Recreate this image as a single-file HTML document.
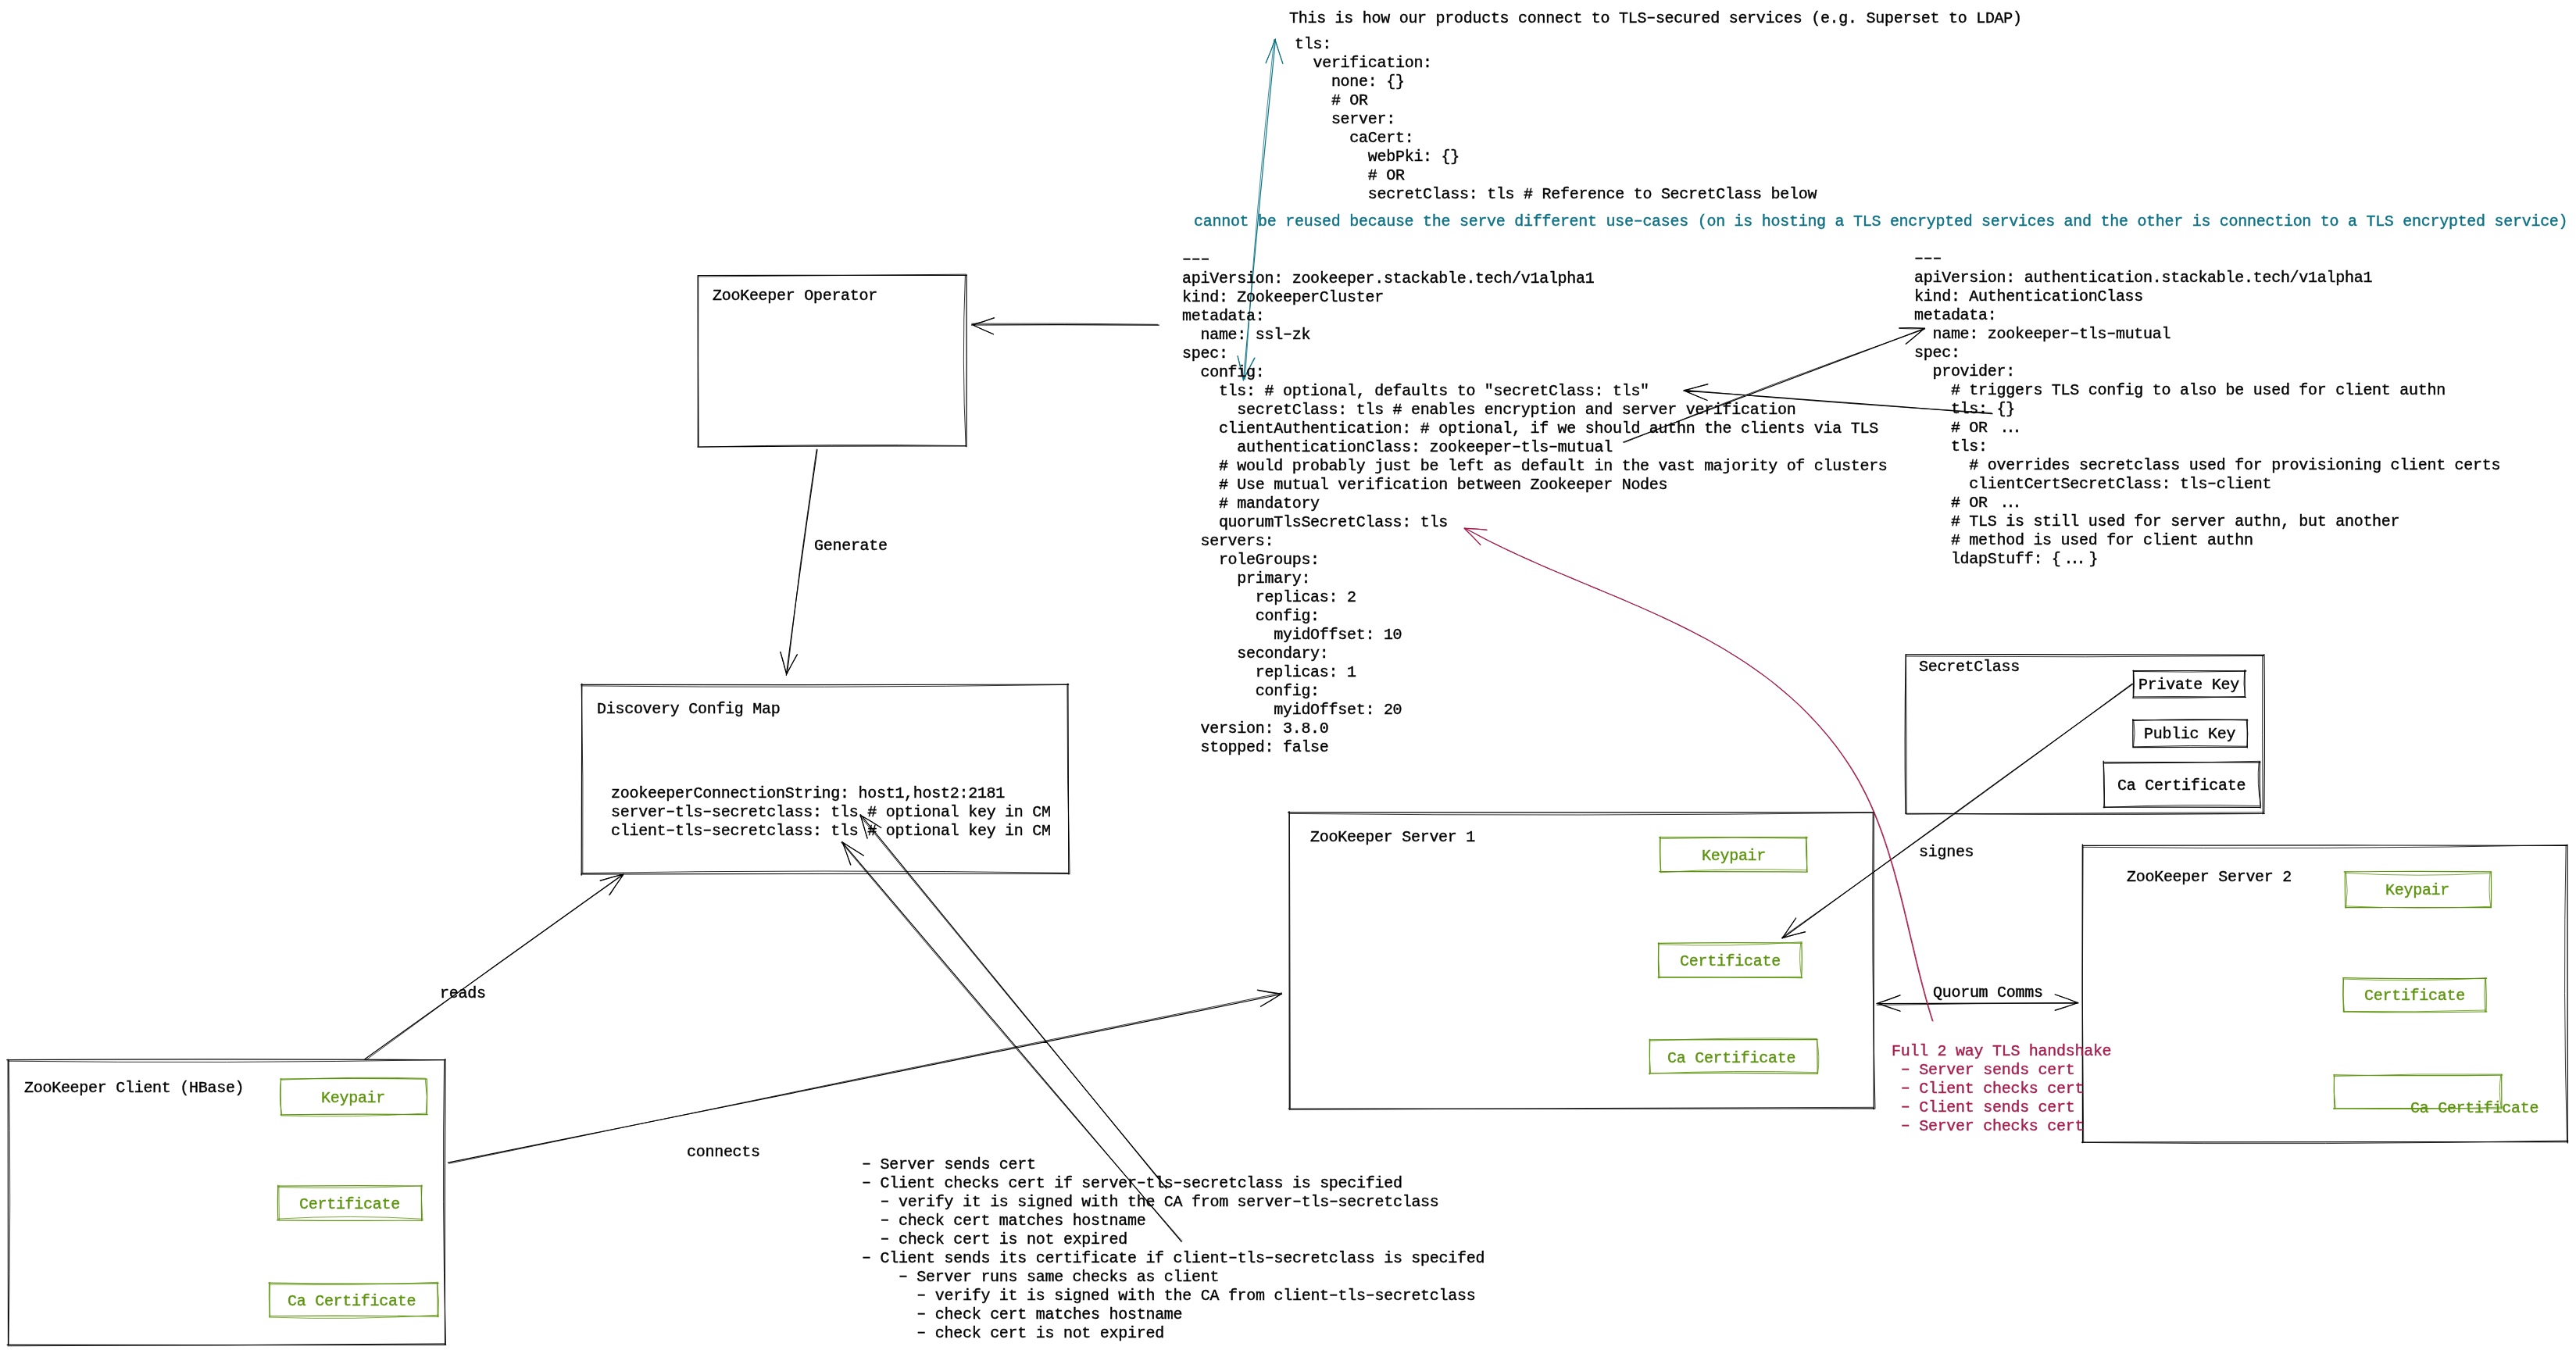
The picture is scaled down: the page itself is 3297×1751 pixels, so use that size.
<!DOCTYPE html>
<html><head><meta charset="utf-8"><style>
html,body{margin:0;padding:0;background:#fff;}
body{width:3297px;height:1751px;position:relative;overflow:hidden;}
svg{position:absolute;left:0;top:0;}
div{position:absolute;white-space:pre;-webkit-text-stroke:0.4px currentColor;will-change:transform;font-family:"Liberation Mono",monospace;font-size:20px;line-height:24px;letter-spacing:-0.28px;}
b{font-weight:normal;position:relative;top:-0.6px;}
i{font-style:normal;letter-spacing:-3.92px;margin-left:3.9px;margin-right:7.84px;}
</style></head><body>
<svg width="3297" height="1751" viewBox="0 0 3297 1751" fill="none" stroke-width="1.2" stroke-linecap="round" stroke-linejoin="round">
<path d="M893.1 352.5Q1065.2 352.9 1237.4 352.4 M1237.0 351.5Q1237.3 461.6 1237.0 571.7 M1237.0 571.0Q1065.0 570.3 893.0 572.0 M893.3 571.6Q893.4 462.1 893.1 352.6 M743.6 876.3Q1055.7 877.1 1367.8 876.1 M1366.9 875.2Q1367.6 997.0 1367.8 1118.9 M1368.3 1118.3Q1056.0 1118.0 743.7 1118.9 M744.2 1120.2Q745.0 997.6 744.8 875.1 M8.8 1356.7Q289.5 1355.2 570.2 1356.6 M570.0 1355.7Q568.8 1538.6 569.6 1721.4 M570.7 1721.3Q289.9 1722.1 9.1 1721.3 M10.5 1721.9Q10.4 1539.0 10.2 1356.0 M1648.6 1039.8Q2023.7 1038.7 2398.7 1039.9 M2398.2 1040.0Q2398.1 1229.9 2398.2 1419.8 M2399.0 1418.9Q2024.1 1419.5 1649.2 1419.0 M1650.3 1420.2Q1650.3 1229.4 1650.0 1038.6 M2439.0 837.8Q2668.4 837.3 2897.8 838.4 M2897.9 837.5Q2898.9 939.5 2897.7 1041.5 M2898.3 1041.3Q2668.4 1042.9 2438.5 1041.2 M2438.8 1041.1Q2437.5 939.4 2439.1 837.7 M2729.8 858.6Q2802.4 858.3 2875.0 858.8 M2873.3 857.7Q2872.9 875.1 2873.4 892.5 M2874.5 892.3Q2802.2 891.6 2730.0 892.0 M2730.3 893.0Q2730.6 875.5 2730.4 858.0 M2729.5 921.5Q2802.9 921.9 2876.3 920.9 M2876.2 920.7Q2876.3 938.9 2876.3 957.1 M2876.2 956.2Q2803.0 956.2 2729.8 956.6 M2729.9 956.5Q2729.8 938.5 2729.9 920.5 M2692.2 975.6Q2792.7 975.5 2893.1 975.8 M2892.4 974.6Q2891.8 1004.3 2893.2 1034.1 M2893.3 1033.3Q2792.8 1033.2 2692.4 1032.8 M2692.9 1033.8Q2693.9 1003.9 2692.2 974.0 M2665.4 1082.3Q2975.8 1081.6 3286.2 1082.3 M3286.0 1081.0Q3286.6 1271.9 3286.3 1462.9 M3286.7 1461.4Q2975.5 1461.0 2664.4 1462.1 M2665.5 1462.7Q2664.8 1271.8 2665.3 1080.9 M1483.3 416.1Q1363.5 415.3 1243.7 416.0 M1272.6 406.9Q1258.3 412.2 1243.6 416.1 M1271.5 427.8Q1257.7 421.8 1244.0 415.5 M2077.5 566.0Q2270.6 493.5 2463.5 420.4 M2430.6 419.9Q2446.9 419.2 2463.3 420.1 M2439.2 440.2Q2451.4 430.4 2463.1 420.2 M2550.1 529.7Q2352.5 513.9 2154.8 500.2 M2185.9 491.9Q2170.6 495.7 2155.4 499.8 M2185.2 512.5Q2170.1 506.2 2155.0 499.8 M1046.0 575.5Q1024.8 719.7 1006.3 864.4 M998.9 834.5Q1003.2 848.7 1006.6 863.2 M1020.5 837.7Q1013.3 850.4 1006.6 863.3 M467.1 1355.5Q632.9 1237.6 798.1 1118.9 M768.1 1127.1Q783.2 1122.8 798.5 1118.9 M779.7 1145.6Q788.9 1132.2 798.3 1118.9 M573.4 1488.1Q1106.8 1379.0 1640.6 1272.5 M1609.3 1267.2Q1624.7 1270.2 1640.1 1272.2 M1613.5 1288.3Q1627.3 1280.6 1640.5 1271.8 M1512.2 1589.3Q1294.2 1334.1 1077.5 1077.6 M1088.6 1107.0Q1083.7 1092.1 1078.0 1077.4 M1105.4 1095.3Q1091.6 1086.7 1077.9 1077.8 M1492.9 1521.0Q1297.0 1281.9 1101.3 1042.6 M1110.0 1073.1Q1105.8 1057.9 1101.1 1042.8 M1127.8 1059.6Q1114.7 1050.9 1100.9 1043.2 M2729.7 875.4Q2504.9 1037.5 2281.1 1201.0 M2298.7 1175.0Q2289.9 1188.0 2281.1 1200.9 M2310.7 1192.9Q2295.7 1196.4 2280.8 1200.5 M2401.8 1284.7Q2530.7 1284.4 2659.7 1283.7 M2432.1 1273.9Q2417.5 1279.3 2402.8 1284.4 M2432.1 1294.3Q2417.6 1289.0 2403.0 1284.0 M2630.1 1272.8Q2645.2 1277.8 2659.9 1284.0 M2630.1 1293.1Q2645.1 1288.4 2660.0 1283.5" stroke="#000000" stroke-width="1.2"/>
<path d="M358.8 1381.1Q452.4 1379.8 545.9 1381.1 M546.2 1380.8Q547.1 1403.7 546.1 1426.5 M547.3 1426.6Q453.2 1425.6 359.1 1426.9 M360.0 1427.6Q358.6 1404.1 359.5 1380.6 M355.4 1518.2Q447.9 1517.3 540.4 1518.0 M539.9 1516.9Q539.0 1539.7 539.7 1562.5 M541.1 1562.1Q447.9 1562.7 354.6 1561.8 M355.8 1561.8Q355.1 1539.5 355.8 1517.1 M343.8 1642.1Q452.5 1643.7 561.2 1642.7 M559.8 1641.5Q560.2 1663.5 560.2 1685.6 M561.1 1685.2Q452.8 1683.3 344.5 1684.5 M345.0 1685.7Q345.0 1663.7 345.3 1641.6 M2123.6 1071.6Q2218.4 1071.5 2313.2 1071.6 M2311.9 1071.1Q2313.1 1093.5 2312.5 1115.9 M2312.4 1116.1Q2218.0 1115.4 2123.7 1115.6 M2125.4 1116.3Q2124.5 1093.7 2125.2 1071.0 M2122.3 1207.4Q2214.4 1205.8 2306.4 1207.2 M2305.8 1206.4Q2306.8 1229.0 2305.7 1251.5 M2306.6 1251.6Q2214.6 1250.9 2122.7 1250.8 M2122.9 1252.1Q2122.0 1229.7 2123.0 1207.2 M2111.0 1330.8Q2218.6 1330.8 2326.2 1330.6 M2325.8 1330.8Q2326.0 1352.6 2326.2 1374.4 M2326.2 1374.3Q2218.2 1372.8 2110.2 1374.0 M2111.5 1374.9Q2111.3 1352.6 2111.7 1330.2 M3000.2 1115.9Q3094.5 1114.9 3188.8 1115.9 M3188.3 1116.1Q3188.8 1138.9 3188.4 1161.8 M3188.6 1161.6Q3095.1 1161.9 3001.5 1161.5 M3001.9 1161.8Q3001.1 1138.8 3001.4 1115.7 M2998.7 1251.7Q3090.6 1253.3 3182.6 1252.4 M3181.4 1252.0Q3182.5 1273.8 3181.9 1295.6 M3182.9 1295.0Q3091.0 1296.5 2999.1 1294.9 M2999.5 1295.1Q2998.6 1273.4 2999.5 1251.6 M2986.7 1375.9Q3094.8 1377.4 3202.9 1376.1 M3201.7 1375.4Q3201.8 1397.3 3201.9 1419.2 M3201.9 1419.0Q3094.2 1418.3 2986.5 1418.9 M2987.9 1419.6Q2987.1 1397.7 2987.5 1375.8" stroke="#5c940d" stroke-width="1.2"/>
<path d="M1591.4 487.0Q1610.8 268.5 1632.5 50.2 M1620.1 80.8Q1626.6 65.5 1632.5 49.9 M1641.8 81.2Q1636.6 65.9 1631.9 50.4 M1584.0 455.5Q1588.0 471.2 1591.6 487.0 M1606.0 458.1Q1598.0 472.1 1591.2 486.7" stroke="#0b7285" stroke-width="1.2"/>
<path d="M2473.3 1306.7 L2471.0 1299.4 L2468.8 1292.0 L2466.6 1284.6 L2464.5 1277.1 L2462.5 1269.7 L2460.5 1262.2 L2458.5 1254.6 L2456.6 1247.0 L2454.7 1239.5 L2452.8 1231.8 L2451.0 1224.2 L2449.2 1216.5 L2447.4 1208.9 L2445.5 1201.2 L2443.7 1193.5 L2441.9 1185.8 L2440.1 1178.1 L2438.2 1170.4 L2436.4 1162.7 L2434.5 1155.0 L2432.6 1147.3 L2430.6 1139.6 L2428.6 1132.0 L2426.5 1124.3 L2424.4 1116.7 L2422.3 1109.1 L2420.0 1101.5 L2417.7 1093.9 L2415.4 1086.4 L2412.9 1078.9 L2410.4 1071.4 L2407.8 1064.0 L2405.0 1056.6 L2402.2 1049.2 L2399.3 1042.0 L2396.2 1034.8 L2393.0 1027.6 L2389.7 1020.6 L2386.3 1013.6 L2382.7 1006.7 L2379.0 999.8 L2375.1 993.1 L2371.1 986.4 L2367.0 979.9 L2362.7 973.4 L2358.3 967.0 L2353.8 960.7 L2349.2 954.4 L2344.4 948.3 L2339.5 942.2 L2334.5 936.3 L2329.4 930.4 L2324.2 924.6 L2318.9 919.0 L2313.5 913.4 L2308.0 907.8 L2302.4 902.4 L2296.7 897.1 L2290.9 891.9 L2285.0 886.7 L2279.0 881.7 L2273.0 876.7 L2266.9 871.9 L2260.7 867.1 L2254.4 862.4 L2248.1 857.9 L2241.7 853.4 L2235.2 849.0 L2228.7 844.7 L2222.1 840.5 L2215.5 836.4 L2208.8 832.3 L2202.1 828.3 L2195.3 824.4 L2188.5 820.6 L2181.6 816.8 L2174.6 813.1 L2167.7 809.5 L2160.7 805.9 L2153.6 802.4 L2146.6 798.9 L2139.5 795.5 L2132.3 792.1 L2125.2 788.8 L2118.0 785.5 L2110.8 782.3 L2103.5 779.0 L2096.3 775.8 L2089.0 772.7 L2081.8 769.5 L2074.5 766.4 L2067.2 763.3 L2059.9 760.3 L2052.6 757.2 L2045.3 754.1 L2037.9 751.1 L2030.6 748.0 L2023.3 745.0 L2016.0 741.9 L2008.8 738.9 L2001.5 735.8 L1994.2 732.8 L1987.0 729.7 L1979.7 726.6 L1972.5 723.5 L1965.3 720.3 L1958.2 717.1 L1951.0 713.9 L1943.9 710.7 L1936.9 707.4 L1929.8 704.1 L1922.8 700.8 L1915.9 697.4 L1908.9 694.0 L1902.0 690.5 L1895.2 686.9 L1888.4 683.3 L1881.7 679.7 L1875.0 676.0 M1903.1 678.4Q1888.6 676.8 1874.0 676.2 M1894.9 697.5Q1885.0 686.4 1874.2 676.2" stroke="#a61e4d" stroke-width="1.2"/>
<path d="M894.1 354.0Q1065.3 352.7 1236.5 351.1 M1235.4 352.5Q1231.0 461.9 1236.1 571.3 M1236.0 570.5Q1064.5 567.9 893.0 572.2 M894.3 571.1Q893.3 461.8 893.8 352.5 M744.1 877.9Q1055.6 881.2 1367.0 876.4 M1365.9 875.8Q1365.7 997.3 1369.1 1118.8 M1367.3 1117.3Q1055.8 1112.6 744.3 1117.5 M745.8 1117.7Q746.8 997.1 744.2 876.4 M10.8 1358.2Q290.4 1361.4 569.9 1356.6 M568.6 1356.1Q565.4 1538.2 570.5 1720.3 M569.7 1719.8Q289.8 1722.2 9.9 1722.8 M11.0 1721.7Q14.2 1539.1 11.4 1356.4 M1650.2 1041.4Q2024.6 1045.2 2399.0 1040.3 M2397.1 1040.7Q2395.3 1229.9 2400.0 1419.0 M2397.7 1417.3Q2024.1 1418.2 1650.4 1420.5 M1651.4 1419.1Q1651.0 1229.4 1650.4 1039.6 M2439.6 840.1Q2668.4 841.7 2897.2 839.5 M2895.6 838.7Q2895.3 940.4 2896.0 1042.0 M2896.7 1039.6Q2668.2 1040.8 2439.7 1042.2 M2440.4 1041.6Q2440.3 939.7 2439.5 837.9 M2731.2 859.5Q2802.7 860.9 2874.2 859.2 M2872.6 858.1Q2871.0 875.4 2873.5 892.8 M2872.7 891.5Q2801.2 894.1 2729.6 893.7 M2730.8 892.4Q2732.4 875.4 2730.9 858.4 M2729.4 922.5Q2803.3 919.1 2877.2 922.1 M2875.2 921.7Q2878.2 938.9 2875.9 956.1 M2876.6 955.2Q2803.4 953.4 2730.3 955.8 M2730.6 955.8Q2733.5 938.6 2730.9 921.3 M2693.3 977.3Q2793.1 976.7 2892.8 974.3 M2891.1 975.3Q2888.3 1003.6 2893.7 1031.9 M2891.8 1031.5Q2792.0 1028.8 2692.1 1033.5 M2693.8 1033.8Q2691.9 1004.4 2692.2 975.1 M2666.0 1084.3Q2975.8 1087.7 3285.5 1081.6 M3284.1 1081.5Q3280.4 1271.6 3285.5 1461.7 M3286.9 1459.9Q2976.5 1466.0 2666.2 1462.4 M2666.7 1461.7Q2664.2 1272.2 2666.1 1082.6 M1481.5 415.3Q1362.7 413.4 1243.8 414.2 M1271.7 406.8Q1258.2 412.0 1244.1 415.5 M1271.6 427.8Q1257.6 422.1 1244.1 415.5 M2078.8 566.5Q2269.7 489.5 2463.8 421.1 M2431.2 420.4Q2446.9 421.4 2462.6 420.5 M2439.6 440.4Q2451.6 430.5 2463.3 420.1 M2549.2 528.4Q2352.5 517.0 2156.3 499.1 M2185.8 491.4Q2170.8 496.1 2155.5 499.9 M2184.3 512.0Q2169.9 506.5 2155.9 500.3 M1045.1 575.0Q1023.4 718.3 1007.6 862.4 M998.8 834.6Q1002.6 848.7 1006.7 862.8 M1019.8 838.0Q1013.2 850.3 1006.6 862.7 M468.6 1356.7Q632.2 1235.5 798.4 1118.2 M768.3 1127.5Q782.8 1122.7 797.6 1119.0 M780.9 1145.0Q788.9 1131.6 797.9 1118.9 M574.6 1489.3Q1107.1 1377.7 1640.6 1270.8 M1610.0 1267.7Q1624.6 1270.9 1639.5 1272.4 M1614.0 1288.0Q1626.9 1279.7 1640.4 1272.2 M1512.9 1588.6Q1292.7 1335.2 1076.7 1078.3 M1089.0 1107.0Q1083.8 1092.5 1078.3 1078.2 M1105.1 1094.8Q1091.8 1086.4 1078.3 1078.4 M1492.8 1519.7Q1296.1 1282.5 1100.5 1044.2 M1110.3 1072.9Q1105.1 1058.4 1101.5 1043.4 M1127.2 1059.1Q1114.6 1050.4 1101.0 1043.2 M2728.7 875.1Q2506.9 1040.4 2280.8 1199.7 M2298.0 1176.0Q2289.8 1188.4 2281.2 1200.4 M2310.1 1192.6Q2295.6 1196.7 2281.2 1200.9 M2402.5 1286.4Q2530.8 1284.1 2659.0 1284.1 M2431.8 1274.0Q2417.8 1279.8 2403.3 1284.1 M2431.8 1294.1Q2417.2 1289.9 2403.1 1284.6 M2630.6 1273.2Q2645.1 1278.0 2659.5 1283.3 M2630.6 1293.4Q2645.1 1289.2 2659.1 1283.5" stroke="#000000" stroke-width="1" stroke-opacity="0.8"/>
<path d="M360.1 1382.2Q452.5 1377.5 544.9 1380.2 M544.3 1381.6Q547.8 1403.9 545.5 1426.3 M545.5 1425.0Q452.9 1430.8 360.3 1428.0 M360.6 1426.5Q356.4 1403.5 359.9 1380.5 M356.3 1519.6Q447.9 1521.8 539.5 1517.9 M538.8 1518.0Q539.7 1539.5 540.8 1560.9 M541.0 1560.2Q448.6 1554.8 356.3 1560.0 M357.4 1561.8Q357.0 1539.6 356.9 1517.4 M345.3 1644.0Q453.0 1645.8 560.7 1641.3 M559.3 1641.9Q562.8 1663.6 561.0 1685.2 M561.0 1683.2Q452.9 1689.9 344.7 1686.1 M345.8 1684.4Q343.5 1663.4 344.4 1642.4 M2124.9 1073.6Q2219.0 1070.8 2313.1 1073.2 M2311.3 1071.2Q2311.0 1093.8 2313.3 1116.4 M2312.0 1113.7Q2218.5 1110.4 2125.0 1116.8 M2126.0 1116.1Q2123.6 1094.2 2124.2 1072.3 M2122.2 1208.8Q2214.3 1212.5 2306.4 1205.7 M2304.7 1206.8Q2302.0 1228.8 2305.7 1250.8 M2304.6 1250.2Q2213.3 1251.2 2121.9 1250.5 M2124.2 1251.3Q2122.2 1229.0 2122.7 1206.7 M2111.8 1332.1Q2218.7 1327.5 2325.6 1329.4 M2325.3 1330.7Q2329.7 1352.4 2326.6 1374.1 M2325.8 1372.6Q2218.6 1369.7 2111.4 1374.0 M2112.6 1373.4Q2110.7 1352.4 2111.2 1331.5 M3001.7 1117.4Q3094.5 1122.9 3187.4 1117.7 M3187.2 1115.8Q3184.4 1138.6 3187.9 1161.4 M3188.1 1160.3Q3094.7 1164.1 3001.3 1159.8 M3002.7 1162.1Q3005.6 1139.5 3002.8 1116.9 M2998.7 1253.1Q3090.6 1257.1 3182.4 1251.8 M3180.5 1252.0Q3178.8 1273.7 3180.6 1295.4 M3181.0 1293.0Q3090.4 1295.9 2999.9 1294.5 M3000.5 1295.1Q2997.7 1274.0 2999.1 1252.9 M2986.8 1377.6Q3094.4 1373.6 3202.0 1375.1 M3200.7 1376.5Q3197.7 1397.3 3201.2 1418.1 M3202.5 1417.0Q3095.3 1421.1 2988.1 1418.8 M2989.2 1418.4Q2986.0 1397.3 2987.7 1376.2" stroke="#5c940d" stroke-width="1" stroke-opacity="0.8"/>
<path d="M1593.4 485.7Q1607.3 267.7 1630.7 50.6 M1620.3 80.3Q1626.7 65.9 1631.6 50.9 M1641.9 81.4Q1636.7 66.3 1632.0 50.9 M1584.2 456.3Q1588.0 471.5 1591.7 486.8 M1605.3 458.3Q1599.1 472.5 1591.4 485.9" stroke="#0b7285" stroke-width="1" stroke-opacity="0.8"/>
<path d="M2474.2 1307.1 L2471.9 1299.8 L2469.7 1292.4 L2467.5 1285.0 L2465.4 1277.5 L2463.4 1270.1 L2461.4 1262.6 L2459.4 1255.0 L2457.5 1247.4 L2455.6 1239.9 L2453.7 1232.2 L2451.9 1224.6 L2450.1 1216.9 L2448.3 1209.3 L2446.4 1201.6 L2444.6 1193.9 L2442.8 1186.2 L2441.0 1178.5 L2439.1 1170.8 L2437.3 1163.1 L2435.4 1155.4 L2433.5 1147.7 L2431.5 1140.0 L2429.5 1132.4 L2427.4 1124.7 L2425.3 1117.1 L2423.2 1109.5 L2420.9 1101.9 L2418.6 1094.3 L2416.3 1086.8 L2413.8 1079.3 L2411.3 1071.8 L2408.7 1064.4 L2405.9 1057.0 L2403.1 1049.6 L2400.2 1042.4 L2397.1 1035.2 L2393.9 1028.0 L2390.6 1021.0 L2387.2 1014.0 L2383.6 1007.1 L2379.9 1000.2 L2376.0 993.5 L2372.0 986.8 L2367.9 980.3 L2363.6 973.8 L2359.2 967.4 L2354.7 961.1 L2350.1 954.8 L2345.3 948.7 L2340.4 942.6 L2335.4 936.7 L2330.3 930.8 L2325.1 925.0 L2319.8 919.4 L2314.4 913.8 L2308.9 908.2 L2303.3 902.8 L2297.6 897.5 L2291.8 892.3 L2285.9 887.1 L2279.9 882.1 L2273.9 877.1 L2267.8 872.3 L2261.6 867.5 L2255.3 862.8 L2249.0 858.3 L2242.6 853.8 L2236.1 849.4 L2229.6 845.1 L2223.0 840.9 L2216.4 836.8 L2209.7 832.7 L2203.0 828.7 L2196.2 824.8 L2189.4 821.0 L2182.5 817.2 L2175.5 813.5 L2168.6 809.9 L2161.6 806.3 L2154.5 802.8 L2147.5 799.3 L2140.4 795.9 L2133.2 792.5 L2126.1 789.2 L2118.9 785.9 L2111.7 782.7 L2104.4 779.4 L2097.2 776.2 L2089.9 773.1 L2082.7 769.9 L2075.4 766.8 L2068.1 763.7 L2060.8 760.7 L2053.5 757.6 L2046.2 754.5 L2038.8 751.5 L2031.5 748.4 L2024.2 745.4 L2016.9 742.3 L2009.7 739.3 L2002.4 736.2 L1995.1 733.2 L1987.9 730.1 L1980.6 727.0 L1973.4 723.9 L1966.2 720.7 L1959.1 717.5 L1951.9 714.3 L1944.8 711.1 L1937.8 707.8 L1930.7 704.5 L1923.7 701.2 L1916.8 697.8 L1909.8 694.4 L1902.9 690.9 L1896.1 687.3 L1889.3 683.7 L1882.6 680.1 L1875.9 676.4 M1902.7 678.0Q1888.6 677.1 1874.4 676.6 M1894.7 696.9Q1884.5 686.8 1874.3 676.7" stroke="#a61e4d" stroke-width="1" stroke-opacity="0.8"/>
</svg>
<div style="left:1649.8px;top:12.0px;color:#000000">This is how our products connect to TLS<b>–</b>secured services (e.g. Superset to LDAP)</div>
<div style="left:1656.8px;top:44.8px;color:#000000">tls:
  verification:
    none: {}
    # OR
    server:
      caCert:
        webPki: {}
        # OR
        secretClass: tls # Reference to SecretClass below</div>
<div style="left:1528.2px;top:272.1px;color:#0b7285">cannot be reused because the serve different use<b>–</b>cases (on is hosting a TLS encrypted services and the other is connection to a TLS encrypted service)</div>
<div style="left:1512.6px;top:320.5px;color:#000000"><b>–</b><b>–</b><b>–</b>
apiVersion: zookeeper.stackable.tech/v1alpha1
kind: ZookeeperCluster
metadata:
  name: ssl<b>–</b>zk
spec:
  config:
    tls: # optional, defaults to &quot;secretClass: tls&quot;
      secretClass: tls # enables encryption and server verification
    clientAuthentication: # optional, if we should authn the clients via TLS
      authenticationClass: zookeeper<b>–</b>tls<b>–</b>mutual
    # would probably just be left as default in the vast majority of clusters
    # Use mutual verification between Zookeeper Nodes
    # mandatory
    quorumTlsSecretClass: tls
  servers:
    roleGroups:
      primary:
        replicas: 2
        config:
          myidOffset: 10
      secondary:
        replicas: 1
        config:
          myidOffset: 20
  version: 3.8.0
  stopped: false</div>
<div style="left:2450.0px;top:319.9px;color:#000000"><b>–</b><b>–</b><b>–</b>
apiVersion: authentication.stackable.tech/v1alpha1
kind: AuthenticationClass
metadata:
  name: zookeeper<b>–</b>tls<b>–</b>mutual
spec:
  provider:
    # triggers TLS config to also be used for client authn
    tls: {}
    # OR <i>...</i>
    tls:
      # overrides secretclass used for provisioning client certs
      clientCertSecretClass: tls<b>–</b>client
    # OR <i>...</i>
    # TLS is still used for server authn, but another
    # method is used for client authn
    ldapStuff: {<i>...</i>}</div>
<div style="left:912.1px;top:367.0px;color:#000000">ZooKeeper Operator</div>
<div style="left:1042.3px;top:686.8px;color:#000000">Generate</div>
<div style="left:764.2px;top:895.8px;color:#000000">Discovery Config Map</div>
<div style="left:782.4px;top:1003.5px;color:#000000">zookeeperConnectionString: host1,host2:2181
server<b>–</b>tls<b>–</b>secretclass: tls # optional key in CM
client<b>–</b>tls<b>–</b>secretclass: tls # optional key in CM</div>
<div style="left:31.2px;top:1381.1px;color:#000000">ZooKeeper Client (HBase)</div>
<div style="left:410.9px;top:1394.4px;color:#5c940d">Keypair</div>
<div style="left:383.3px;top:1530.0px;color:#5c940d">Certificate</div>
<div style="left:367.6px;top:1653.7px;color:#5c940d">Ca Certificate</div>
<div style="left:562.8px;top:1259.7px;color:#000000">reads</div>
<div style="left:878.5px;top:1463.3px;color:#000000">connects</div>
<div style="left:1102.6px;top:1478.6px;color:#000000"><b>–</b> Server sends cert
<b>–</b> Client checks cert if server<b>–</b>tls<b>–</b>secretclass is specified
  <b>–</b> verify it is signed with the CA from server<b>–</b>tls<b>–</b>secretclass
  <b>–</b> check cert matches hostname
  <b>–</b> check cert is not expired
<b>–</b> Client sends its certificate if client<b>–</b>tls<b>–</b>secretclass is specifed
    <b>–</b> Server runs same checks as client
      <b>–</b> verify it is signed with the CA from client<b>–</b>tls<b>–</b>secretclass
      <b>–</b> check cert matches hostname
      <b>–</b> check cert is not expired</div>
<div style="left:1677.3px;top:1060.4px;color:#000000">ZooKeeper Server 1</div>
<div style="left:2177.5px;top:1084.1px;color:#5c940d">Keypair</div>
<div style="left:2150.1px;top:1218.5px;color:#5c940d">Certificate</div>
<div style="left:2133.8px;top:1342.6px;color:#5c940d">Ca Certificate</div>
<div style="left:2455.6px;top:841.7px;color:#000000">SecretClass</div>
<div style="left:2737.4px;top:864.8px;color:#000000">Private Key</div>
<div style="left:2744.0px;top:928.4px;color:#000000">Public Key</div>
<div style="left:2710.4px;top:993.5px;color:#000000">Ca Certificate</div>
<div style="left:2455.6px;top:1079.1px;color:#000000">signes</div>
<div style="left:2722.3px;top:1111.4px;color:#000000">ZooKeeper Server 2</div>
<div style="left:3052.7px;top:1128.1px;color:#5c940d">Keypair</div>
<div style="left:3026.0px;top:1263.4px;color:#5c940d">Certificate</div>
<div style="left:3084.8px;top:1406.9px;color:#5c940d">Ca Certificate</div>
<div style="left:2474.2px;top:1259.1px;color:#000000">Quorum Comms</div>
<div style="left:2420.8px;top:1333.9px;color:#a61e4d">Full 2 way TLS handshake
 <b>–</b> Server sends cert
 <b>–</b> Client checks cert
 <b>–</b> Client sends cert
 <b>–</b> Server checks cert</div>
</body></html>
